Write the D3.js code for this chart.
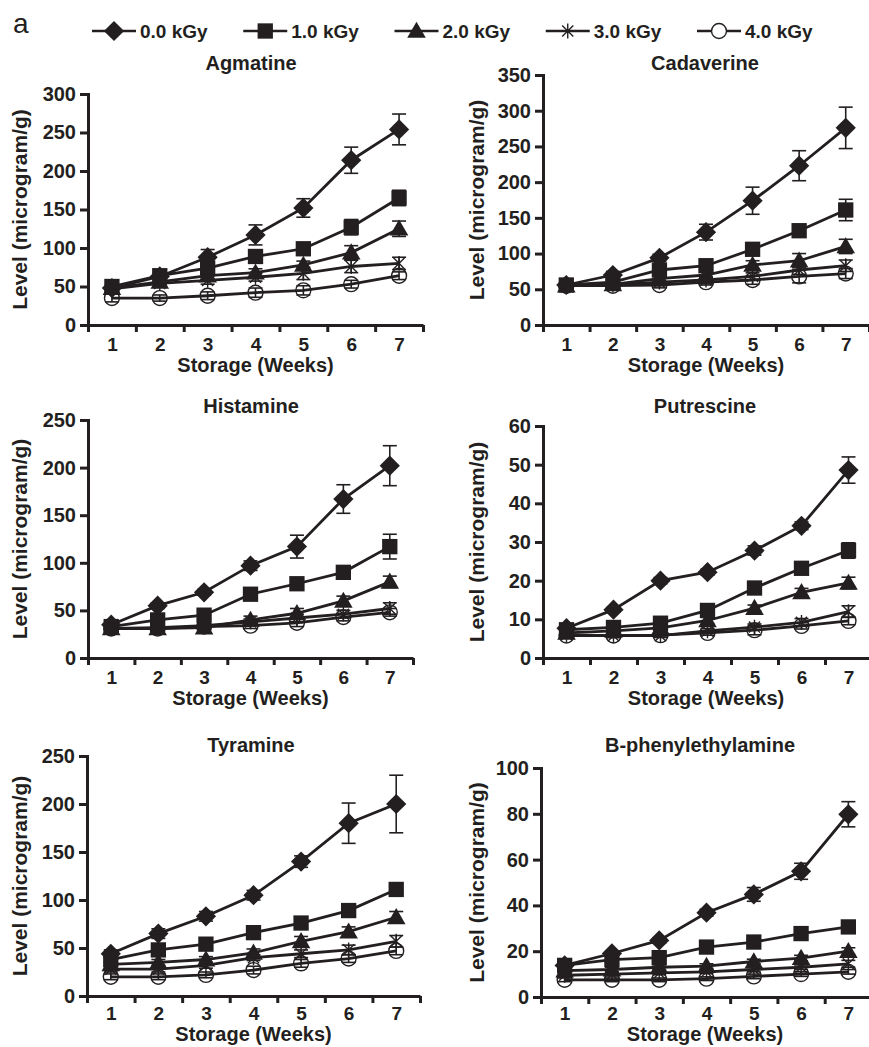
<!DOCTYPE html>
<html>
<head>
<meta charset="utf-8">
<script src="https://cdn.jsdelivr.net/npm/d3@7"></script>
<style>
  body { margin: 0; background: #fff; }
  svg { display: block; font-family: "Liberation Sans", Arial, Helvetica, sans-serif; }
</style>
</head>
<body>
<svg id="chart" width="869" height="1047"></svg>
<script>
const weeks = [1, 2, 3, 4, 5, 6, 7];
const doses = ["0.0 kGy", "1.0 kGy", "2.0 kGy", "3.0 kGy", "4.0 kGy"];

// mean level per dose (rows) and week (columns), microgram/g
const agmatine = [
  [48, 63, 88, 117, 152, 214, 254],
  [50, 64, 74, 89, 99, 127, 165],
  [48, 56, 64, 68, 78, 94, 125],
  [47, 54, 58, 62, 67, 76, 80],
  [35, 35, 38, 42, 45, 53, 64]
];
const agmatineErr = [
  [5, 4, 10, 13, 12, 17, 20],
  [5, 4, 6, 5, 4, 10, 10],
  [4, 4, 4, 5, 5, 9, 10],
  [4, 4, 5, 5, 8, 8, 8],
  [5, 4, 5, 6, 6, 5, 5]
];

const cadaverine = [
  [56, 70, 94, 130, 174, 223, 276],
  [56, 60, 77, 83, 106, 132, 161],
  [55, 57, 65, 70, 84, 90, 110],
  [55, 56, 60, 63, 68, 77, 83],
  [55, 55, 56, 60, 63, 68, 72]
];
const cadaverineErr = [
  [4, 5, 5, 11, 19, 21, 29],
  [4, 4, 5, 5, 8, 5, 15],
  [4, 4, 4, 5, 6, 10, 10],
  [4, 4, 5, 5, 5, 6, 8],
  [4, 4, 4, 4, 6, 9, 7]
];

const histamine = [
  [35, 55, 69, 97, 117, 167, 202],
  [33, 40, 45, 67, 78, 90, 117],
  [31, 31, 32, 40, 47, 60, 80],
  [31, 32, 34, 38, 42, 46, 52],
  [31, 31, 33, 34, 37, 43, 48]
];
const histamineErr = [
  [3, 3, 3, 5, 12, 15, 21],
  [3, 3, 3, 4, 4, 4, 13],
  [3, 3, 3, 4, 5, 5, 6],
  [3, 3, 3, 3, 4, 4, 6],
  [3, 3, 3, 3, 4, 4, 4]
];

const putrescine = [
  [7.7, 12.5, 20, 22.2, 27.8, 34.2, 48.6],
  [7.3, 7.9, 9, 12.3, 18.1, 23.2, 27.8],
  [6.5, 7, 7.8, 9.7, 12.9, 17, 19.4],
  [6, 5.8, 5.8, 7, 8, 9.2, 12],
  [5.8, 5.8, 5.9, 6.5, 7.2, 8.3, 9.6]
];
const putrescineErr = [
  [0.6, 0.6, 0.8, 0.8, 1.2, 1, 3.4],
  [0.5, 0.6, 0.8, 0.8, 1, 1, 2],
  [0.5, 0.5, 0.6, 0.8, 0.8, 1, 1.5],
  [0.5, 0.5, 0.5, 0.6, 0.8, 1, 1.5],
  [0.5, 0.5, 0.5, 0.6, 1.2, 0.8, 1]
];

const tyramine = [
  [44, 65, 83, 105, 140, 180, 200],
  [38, 48, 54, 66, 76, 89, 111],
  [33, 35, 38, 45, 57, 67, 82],
  [28, 28, 32, 40, 44, 48, 57],
  [20, 20, 22, 27, 34, 39, 47]
];
const tyramineErr = [
  [4, 5, 5, 5, 6, 21, 30],
  [3, 4, 4, 4, 5, 5, 5],
  [3, 3, 3, 4, 5, 5, 6],
  [3, 3, 3, 3, 4, 5, 6],
  [3, 3, 3, 4, 4, 4, 4]
];

const phenylethylamine = [
  [13.8, 19, 24.7, 36.8, 44.8, 54.9, 79.8],
  [13.8, 16.3, 17.2, 21.8, 24, 27.7, 30.6],
  [11.5, 12, 13, 13.5, 15.5, 17, 20],
  [9.5, 10, 10.5, 11, 12, 13, 14.5],
  [7.5, 7.5, 7.5, 8, 9, 10, 11]
];
const phenylethylamineErr = [
  [1, 1, 1.2, 1.5, 3, 3.5, 5.5],
  [1, 1, 1, 1, 1, 1, 1.2],
  [1, 1, 1, 1, 1, 1.2, 1.5],
  [0.8, 0.8, 0.8, 0.8, 1, 1, 1.5],
  [0.8, 0.8, 0.8, 0.8, 1, 1, 1]
];

// y tick labels per panel
const ticks300 = [0, 50, 100, 150, 200, 250, 300];
const ticks350 = [0, 50, 100, 150, 200, 250, 300, 350];
const ticks250 = [0, 50, 100, 150, 200, 250];
const ticks60 = [0, 10, 20, 30, 40, 50, 60];
const ticks100 = [0, 20, 40, 60, 80, 100];

const ink = "#231f20";
const svg = d3.select("#chart");

const panels = [
  { title: "Agmatine", values: agmatine, errs: agmatineErr, ticks: ticks300,
    x0: 88, x1: 423, yb: 325, yt: 94, tx: 251, ty: 70, lx: 27, sy: 47, tp: 13 },
  { title: "Cadaverine", values: cadaverine, errs: cadaverineErr, ticks: ticks350,
    x0: 543, x1: 869, yb: 325, yt: 75, tx: 705, ty: 70, lx: 484, sy: 47, tp: 13 },
  { title: "Histamine", values: histamine, errs: histamineErr, ticks: ticks250,
    x0: 88, x1: 413, yb: 658, yt: 420, tx: 251, ty: 413, lx: 27, sy: 47, tp: 13 },
  { title: "Putrescine", values: putrescine, errs: putrescineErr, ticks: ticks60,
    x0: 543, x1: 872, yb: 658, yt: 426, tx: 705, ty: 413, lx: 484, sy: 47, tp: 13 },
  { title: "Tyramine", values: tyramine, errs: tyramineErr, ticks: ticks250,
    x0: 87, x1: 420, yb: 996, yt: 756, tx: 251, ty: 752, lx: 27, sy: 45, tp: 11 },
  { title: "B-phenylethylamine", values: phenylethylamine, errs: phenylethylamineErr, ticks: ticks100,
    x0: 541, x1: 872, yb: 997, yt: 768, tx: 700, ty: 752, lx: 484, sy: 44, tp: 10 }
];

// asterisk: vertical bar plus an X
const symbolStar = {
  draw(ctx, size) {
    const r = Math.sqrt(size) / 2, d = r * 0.75;
    ctx.moveTo(0, -r); ctx.lineTo(0, r);
    ctx.moveTo(-d, -d); ctx.lineTo(d, d);
    ctx.moveTo(-d, d); ctx.lineTo(d, -d);
  }
};

const markers = [
  { path: d3.symbol(d3.symbolSquare, 205)(), rotate: 45, fill: ink, stroke: "none" },
  { path: d3.symbol(d3.symbolSquare, 235)(), rotate: 0, fill: ink, stroke: "none" },
  { path: d3.symbol(d3.symbolTriangle, 150)(), rotate: 0, fill: ink, stroke: "none", dy: 1.5 },
  { path: d3.symbol(symbolStar, 220)(), rotate: 0, fill: "none", stroke: ink },
  { path: d3.symbol(d3.symbolCircle, 175)(), rotate: 0, fill: "none", stroke: ink, open: true }
];

function drawMarker(g, m, x, y, openFill) {
  g.append("path")
    .attr("d", m.path)
    .attr("transform", `translate(${x},${y + (m.dy || 0)}) rotate(${m.rotate})`)
    .attr("fill", m.open && openFill ? openFill : m.fill)
    .attr("stroke", m.stroke)
    .attr("stroke-width", 1.4);
}

panels.forEach((p) => {
  const g = svg.append("g");

  const x = d3.scaleLinear().domain([0.5, 7.5]).range([p.x0, p.x1]);
  const y = d3.scaleLinear().domain([0, d3.max(p.ticks)]).range([p.yb, p.yt]);

  // y axis
  g.append("g")
    .attr("transform", `translate(${p.x0},0)`)
    .call(d3.axisLeft(y).tickValues(p.ticks).tickSize(8).tickSizeOuter(0).tickPadding(4))
    .call((a) => a.select(".domain").attr("stroke", ink).attr("stroke-width", 3).attr("stroke-linecap", "square"))
    .call((a) => a.selectAll(".tick line").attr("stroke", ink).attr("stroke-width", 3))
    .call((a) => a.selectAll("text").attr("fill", ink).attr("font-size", 20).attr("font-weight", "bold"));

  // x axis: ticks between weeks
  g.append("g")
    .attr("transform", `translate(0,${p.yb})`)
    .call(d3.axisBottom(x).tickValues(d3.range(0.5, 8, 1)).tickSize(7).tickSizeOuter(0).tickFormat(""))
    .call((a) => a.select(".domain").attr("stroke", ink).attr("stroke-width", 3))
    .call((a) => a.selectAll(".tick line").attr("stroke", ink).attr("stroke-width", 3));

  g.append("g")
    .attr("transform", `translate(0,${p.yb})`)
    .call(d3.axisBottom(x).tickValues(weeks).tickSize(0).tickPadding(p.tp).tickFormat(d3.format("d")))
    .call((a) => a.select(".domain").remove())
    .call((a) => a.selectAll("text").attr("fill", ink).attr("font-size", 19).attr("font-weight", "bold"));

  // titles
  g.append("text")
    .attr("x", p.tx).attr("y", p.ty)
    .attr("text-anchor", "middle").attr("font-size", 20).attr("font-weight", "bold").attr("fill", ink)
    .text(p.title);

  g.append("text")
    .attr("x", (p.x0 + Math.min(p.x1, 869)) / 2).attr("y", p.yb + p.sy)
    .attr("text-anchor", "middle").attr("font-size", 20).attr("font-weight", "bold").attr("fill", ink)
    .text("Storage (Weeks)");

  g.append("text")
    .attr("transform", `translate(${p.lx},${(p.yb + p.yt) / 2}) rotate(-90)`)
    .attr("text-anchor", "middle").attr("font-size", 21).attr("font-weight", "bold").attr("fill", ink)
    .text("Level (microgram/g)");

  const line = d3.line().x((d, i) => x(weeks[i])).y((d) => y(d));

  // draw the highest dose first so 0.0 kGy sits on top
  for (let s = p.values.length - 1; s >= 0; s--) {
    const vals = p.values[s], errs = p.errs[s];
    const sg = g.append("g");

    sg.selectAll("g.err")
      .data(vals)
      .join("g")
      .attr("class", "err")
      .each(function (d, i) {
        const e = d3.select(this), cx = x(weeks[i]);
        const hi = y(d + errs[i]), lo = y(d - errs[i]);
        e.append("line").attr("x1", cx).attr("x2", cx).attr("y1", hi).attr("y2", lo);
        e.append("line").attr("x1", cx - 7).attr("x2", cx + 7).attr("y1", hi).attr("y2", hi);
        e.append("line").attr("x1", cx - 7).attr("x2", cx + 7).attr("y1", lo).attr("y2", lo);
      })
      .attr("stroke", ink).attr("stroke-width", 1.6);

    sg.append("path")
      .datum(vals)
      .attr("d", line)
      .attr("fill", "none")
      .attr("stroke", ink)
      .attr("stroke-width", 2.8);

    vals.forEach((d, i) => drawMarker(sg, markers[s], x(weeks[i]), y(d)));
  }
});

// legend
const legend = svg.append("g");
legend.append("text")
  .attr("x", 13).attr("y", 33)
  .attr("font-size", 28).attr("fill", ink)
  .text("a");

const legendX = d3.scalePoint().domain(doses).range([114, 719]);
doses.forEach((dose, i) => {
  const cx = legendX(dose), cy = 31;
  legend.append("line")
    .attr("x1", cx - 22).attr("x2", cx + 22).attr("y1", cy).attr("y2", cy)
    .attr("stroke", ink).attr("stroke-width", 2.4);
  drawMarker(legend, markers[i], cx, cy, "#fff");
  legend.append("text")
    .attr("x", cx + 26).attr("y", cy + 7)
    .attr("font-size", 19).attr("font-weight", "bold").attr("fill", ink)
    .text(dose);
});
</script>
</body>
</html>
